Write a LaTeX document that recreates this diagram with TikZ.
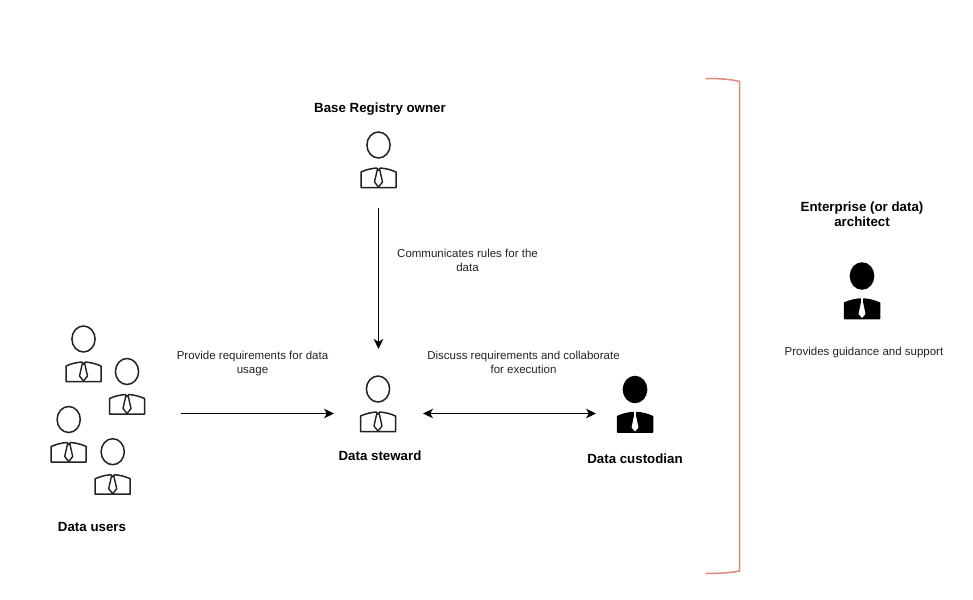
\documentclass[tikz,border=0pt]{standalone}
\usepackage{fontspec}
\setmainfont{Liberation Sans}
\usetikzlibrary{arrows.meta}
\definecolor{bracketred}{HTML}{DC8A78}
\definecolor{ink}{HTML}{222222}
\tikzset{
  x=1pt,y=-1pt,
  hit/.style={inner sep=0pt,outer sep=0pt,minimum width=#1},
  lab/.style={font=\fontsize{11.5}{14}\selectfont,align=center,text=ink,inner sep=0pt},
  title/.style={font=\fontsize{13.3}{15}\selectfont\bfseries,align=center,text=black,inner sep=0pt},
  tip/.tip={Stealth[length=10pt,width=9.5pt,inset=2.8pt]},
  link/.style={draw=black,line width=1.3pt,-tip},
  person line/.style={draw=ink,line width=1.5pt,fill=white},
  pics/person/.style={code={
    \path[person line,#1] (0,0) ellipse[x radius=11.6,y radius=13];
    \path[person line,#1,line join=round] (-17.5,42.5) -- (-17.5,27) .. controls (-12,24.5) and (-7,23.5) .. (-2,23) -- (0,25) -- (2,23) .. controls (7,23.5) and (12,24.5) .. (17.5,27) -- (17.5,42.5) -- cycle;
  }},
  pics/tieopen/.style={code={
    \draw[draw=ink,line width=1.4pt,line join=round] (-1.3,25) -- (-4,37) -- (0,42) -- (4,37) -- (1.3,25) -- cycle;
  }},
  pics/tiesolid/.style={code={
    \fill[white] (-1.2,27) -- (-3.4,38) -- (0,42) -- (3.4,38) -- (1.2,27) -- cycle;
    \draw[white,line width=1.4pt] (0,22) -- (0,27);
  }},
}
\begin{document}
\begin{tikzpicture}
\useasboundingbox (0,0) rectangle (973,599);
% persons
\pic at (378.5,145) {person={}}; \pic at (378.5,145) {tieopen};
\pic at (378,389) {person={}}; \pic at (378,389) {tieopen};
\pic at (83.5,339) {person={}}; \pic at (83.5,339) {tieopen};
\pic at (127,371.5) {person={}}; \pic at (127,371.5) {tieopen};
\pic at (68.7,419.5) {person={}}; \pic at (68.7,419.5) {tieopen};
\pic at (112.7,451.7) {person={}}; \pic at (112.7,451.7) {tieopen};
\pic at (635,389.5) {person={fill=black,draw=black}}; \pic at (635,389.5) {tiesolid};
\pic at (862,276) {person={fill=black,draw=black}}; \pic at (862,276) {tiesolid};
% invisible hit areas for connector ends
\node[hit=60pt,minimum height=110pt] (owner) at (378.5,153) {};
\node[hit=89pt,minimum height=129pt] (steward) at (378.5,413.5) {};
\node[hit=140pt,minimum height=60pt] (users) at (111,413.5) {};
\node[hit=78pt,minimum height=60pt] (custodian) at (635,413.5) {};
% labels
\node[title] (t1) at (380,109) {Base Registry owner};
\node[title] (t2) at (380,456) {Data steward};
\node[title] (t3) at (635,459) {Data custodian};
\node[title] (t4) at (92,527) {Data users};
\node[title] (t5) at (862,214.5) {Enterprise (or data)\\architect};
\node[lab] (l1) at (467.5,260) {Communicates rules for the\\data};
\node[lab] (l2) at (252.5,364) {Provide requirements for data\\usage};
\node[lab] (l3) at (523.5,362) {Discuss requirements and collaborate\\for execution};
\node[lab] (l4) at (864,352.5) {Provides guidance and support};
% connectors
\draw[link] (owner.south) -- (owner.south |- steward.north);
\draw[link] (users.east) -- (steward.west);
\draw[link,tip-tip] (steward.east) -- (custodian.west);
% bracket
\draw[bracketred,line width=1.5pt] (705.5,78.5) .. controls (722,78.5) and (732,79.5) .. (739.5,81.5) -- (739.5,571) .. controls (732,572.5) and (722,573.5) .. (705.5,573.5);
\end{tikzpicture}
\end{document}
